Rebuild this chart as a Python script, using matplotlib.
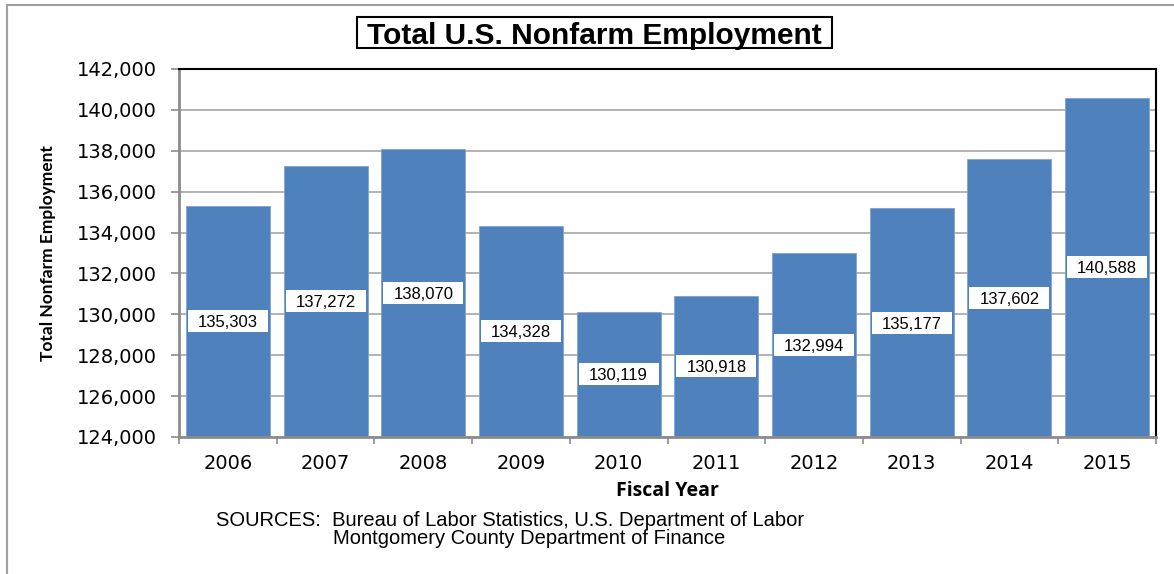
import matplotlib
matplotlib.use("Agg")
import matplotlib.pyplot as plt
from matplotlib.patches import Rectangle
from matplotlib.ticker import FuncFormatter, MultipleLocator
from matplotlib.transforms import ScaledTranslation

years = ["2006", "2007", "2008", "2009", "2010", "2011", "2012", "2013", "2014", "2015"]
employment = [135303, 137272, 138070, 134328, 130119, 130918, 132994, 135177, 137602, 140588]

W, H = 1174, 574
fig = plt.figure(figsize=(W / 100, H / 100), dpi=100)

# outer chart frame
fig.add_artist(Rectangle((7 / W, -0.02), 1.2, 1 - 5 / H + 0.02, transform=fig.transFigure,
                         fill=False, edgecolor="#a0a0a0", linewidth=1.5))

ax = fig.add_axes([179 / W, 1 - 437 / H, (1156 - 179) / W, (437 - 69) / H])

x = list(range(len(years)))
base = 124000
heights = [v - base for v in employment]
ax.bar(x, heights, bottom=base, width=0.86, color="#4f81bd",
       edgecolor="#7fa3d1", linewidth=0.6, zorder=2)

ax.set_ylim(124000, 142000)
ax.set_xlim(-0.5, len(years) - 0.5)
ax.yaxis.set_major_locator(MultipleLocator(2000))
ax.yaxis.set_major_formatter(FuncFormatter(lambda v, p: f"{int(v):,}"))
ax.grid(axis="y", color="#a6a6a6", linewidth=1.2, zorder=0)
ax.set_axisbelow(True)

ax.set_xticks(x)
ax.set_xticklabels(years)
ax.set_xticks([i - 0.5 for i in range(len(years) + 1)], minor=True)
ax.tick_params(axis="x", which="major", length=0, pad=12, labelsize=14)
ax.tick_params(axis="x", which="minor", length=5, width=1.2, color="#8c8c8c")
ax.tick_params(axis="y", length=6, width=1.2, color="#8c8c8c", pad=10, labelsize=14)

for side in ("left", "bottom"):
    ax.spines[side].set_color("#8c8c8c")
    ax.spines[side].set_linewidth(2)
for side in ("top", "right"):
    ax.spines[side].set_color("black")
    ax.spines[side].set_linewidth(1.5)

# value labels centred in each bar, on a white box of fixed pixel size
box_w, box_h = 0.80, 0.22  # inches
for xi, v in zip(x, employment):
    yc = (base + v) / 2
    tr = fig.dpi_scale_trans + ScaledTranslation(xi, yc, ax.transData)
    ax.add_artist(Rectangle((-box_w / 2, -box_h / 2), box_w, box_h, transform=tr,
                            facecolor="white", edgecolor="none", zorder=3))
    ax.text(xi, yc, f"{v:,}", ha="center", va="center_baseline",
            fontsize=12, family="Liberation Sans", zorder=4)

ax.set_xlabel("Fiscal Year", fontsize=14, fontweight="bold", family="Open Sans", labelpad=6)
ax.set_ylabel("Total Nonfarm Employment", fontsize=12.5, fontweight="bold", family="Lato")
ax.yaxis.set_label_coords(-0.126, 0.5)

# title in a framed box
fig.add_artist(Rectangle((357 / W, 1 - 48 / H), (832 - 357) / W, 31 / H,
                         transform=fig.transFigure, facecolor="white",
                         edgecolor="black", linewidth=1.5))
fig.text(594.5 / W, 1 - 33 / H, "Total U.S. Nonfarm Employment", ha="center",
         va="center_baseline", fontsize=21.5, fontweight="bold", family="Liberation Sans")

fig.text(216 / W, 1 - 521 / H, "SOURCES:  Bureau of Labor Statistics, U.S. Department of Labor",
         ha="left", va="center", fontsize=14.5, family="Liberation Sans")
fig.text(333 / W, 1 - 539 / H, "Montgomery County Department of Finance",
         ha="left", va="center", fontsize=14.5, family="Liberation Sans")

fig.savefig("out.png", dpi=100)
